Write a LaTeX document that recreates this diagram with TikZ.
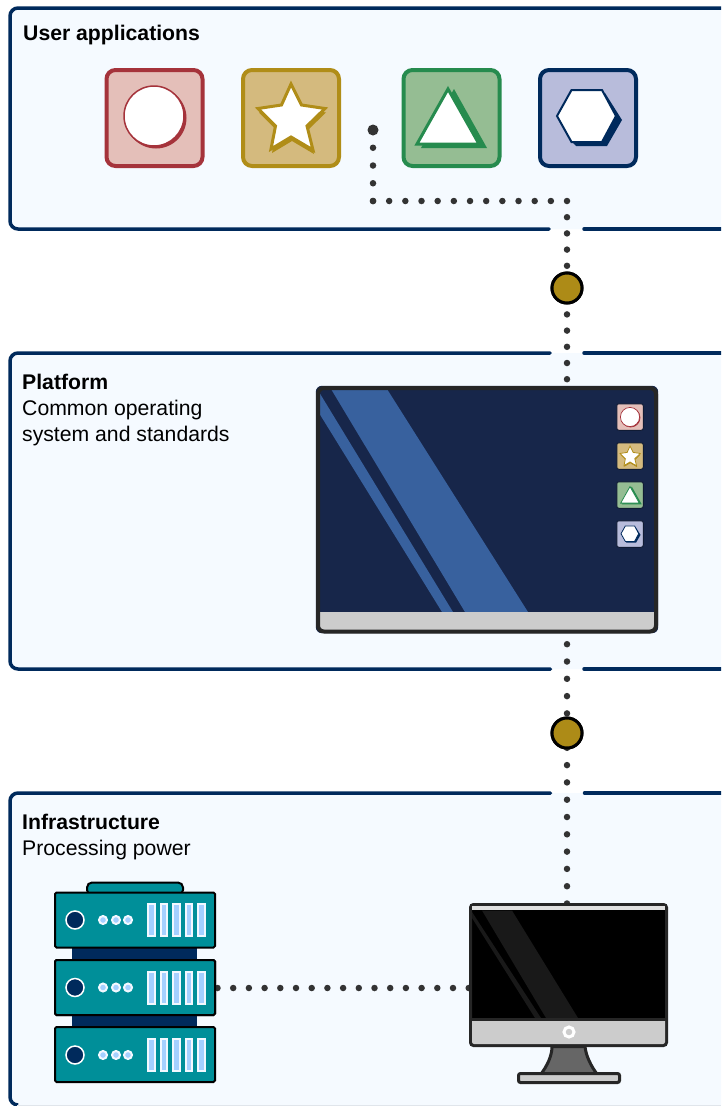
\documentclass[tikz,border=0pt]{standalone}
\usepackage{fontspec}
\setmainfont{Liberation Sans}
\definecolor{panelfill}{HTML}{F5FAFF}
\definecolor{navy}{HTML}{002A5C}
\definecolor{dotgrey}{HTML}{333333}
\definecolor{gold}{HTML}{AD8B17}
\definecolor{redS}{HTML}{A5333B}\definecolor{redF}{HTML}{E4BFB9}
\definecolor{goldS}{HTML}{B08D18}\definecolor{goldF}{HTML}{D4BA7E}
\definecolor{greenS}{HTML}{268B4E}\definecolor{greenF}{HTML}{95BD93}
\definecolor{blueF}{HTML}{B8BCDB}
\definecolor{screenblue}{HTML}{17264A}
\definecolor{stripeblue}{HTML}{38619E}
\definecolor{devline}{HTML}{262626}
\definecolor{chin}{HTML}{CCCCCC}
\definecolor{teal}{HTML}{008F99}
\definecolor{ledblue}{HTML}{A5D0FF}
\tikzset{
  x=1pt,y=-1pt,
  panelborder/.style={draw=navy,line width=3.5pt,rounded corners=8pt,line cap=round},
  paneltext/.style={anchor=base west,inner sep=0pt,font=\fontsize{21.2}{25}\selectfont},
  paneltitle/.style={paneltext,font=\fontsize{21.2}{25}\selectfont\bfseries},
  dots/.style={draw=dotgrey,line width=6.5pt,line cap=round,dash pattern=on 0pt off #1},
  junction/.style={circle,draw=black,fill=gold,line width=3pt,minimum size=30pt,inner sep=0pt},
  bigicon/.style={draw=#1,line width=4pt,rounded corners=9pt,minimum size=96pt,inner sep=0pt},
  smallicon/.style={draw=screenblue!70!black,line width=1pt,rounded corners=2pt,minimum size=26.5pt,inner sep=0pt},
  devbox/.style={draw=black,line width=2pt,fill=teal,rounded corners=1.5pt,inner sep=0pt},
  serverunit/.style={devbox,minimum width=160pt,minimum height=55pt},
  bar/.style={draw=white!85!ledblue,fill=ledblue,line width=2pt},
  led/.style={draw=white!85!ledblue,fill=ledblue,line width=2pt},
}
% inner glyphs, drawn relative to the icon centre; #1 = centre, #2 = scale, #3 = glyph line width
\newcommand{\glyphcircle}[3]{\begin{scope}[shift={(#1)},scale=#2]
  \fill[redS] (2,2) circle[radius=30.5];
  \draw[redS,fill=white,line width=#3] (0,0) circle[radius=30];
\end{scope}}
\newcommand{\starpts}{(0,-33) -- (10.5,-12) -- (34,-8.5) -- (16,9) -- (22,33) -- (0,20) -- (-20,32) -- (-15.5,9) -- (-33,-8.5) -- (-9.5,-12) -- cycle}
\newcommand{\glyphstar}[3]{\begin{scope}[shift={(#1)},scale=#2]
  \fill[goldS,shift={(1,4)}] \starpts;
  \draw[goldS,fill=white,line width=#3,miter limit=10] \starpts;
\end{scope}}
\newcommand{\tripts}{(0,-28) -- (31,27) -- (-31,27) -- cycle}
\newcommand{\glyphtri}[3]{\begin{scope}[shift={(#1)},scale=#2]
  \fill[greenS,shift={(6,2)}] (0,-30) -- (33,29) -- (-33,29) -- cycle;
  \draw[greenS,fill=white,line width=#3] \tripts;
\end{scope}}
\newcommand{\hexpts}{(-30,-1) -- (-15.5,-27) -- (15,-27) -- (29,-1) -- (15,25) -- (-15.5,25) -- cycle}
\newcommand{\glyphhex}[3]{\begin{scope}[shift={(#1)},scale=#2]
  \fill[navy] (18,-24) -- (35,3) -- (20,29) -- (-11,29) -- (-15,25) -- cycle;
  \draw[navy,fill=white,line width=#3] \hexpts;
\end{scope}}
\newcommand{\serverdetail}[1]{%
  \draw[white,fill=navy,line width=1.5pt] (75,#1+28) circle[radius=9];
  \foreach \lx in {103,116,128} \draw[led] (\lx,#1+28) circle[radius=4];
  \foreach \bx in {148,160.5,173,185.5,198} \draw[bar] (\bx,#1+12) rectangle (\bx+6.6,#1+44);
}
\begin{document}
\begin{tikzpicture}
\useasboundingbox (0,0) rectangle (721,1106);
\fill[white] (0,0) rectangle (721,1106);
\clip (0,0) rectangle (721,1106);

% panels
\fill[panelfill,rounded corners=8pt] (10,8) -- (730,8) -- (730,229) -- (10,229) -- cycle;
\draw[panelborder] (721,8) -- (10,8) -- (10,229) -- (549,229);
\draw[panelborder] (584,229) -- (721,229);
\fill[panelfill,rounded corners=8pt] (10,353) -- (730,353) -- (730,669) -- (10,669) -- cycle;
\draw[panelborder] (550,353) -- (10,353) -- (10,669) -- (550.5,669);
\draw[panelborder] (584,353) -- (721,353);
\draw[panelborder] (584,669) -- (721,669);
\fill[panelfill,rounded corners=8pt] (10,793) -- (730,793) -- (730,1105) -- (10,1105) -- cycle;
\draw[panelborder] (550.5,793) -- (10,793) -- (10,1105) -- (17,1105);
\draw[panelborder] (584.5,793) -- (721,793);
\draw[draw=navy!12,line width=1pt] (17,1105.5) -- (721,1105.5);

% text
\node[paneltitle] (t1) at (23,40) {User applications};
\node[paneltitle] (t2) at (22,389) {Platform};
\node[paneltext] (t3) at (22,415) {Common operating};
\node[paneltext] (t4) at (22,441) {system and standards};
\node[paneltitle] (t5) at (22,829) {Infrastructure};
\node[paneltext] (t6) at (22,855) {Processing power};

% named anchors
\node[circle,fill=dotgrey,minimum size=11pt,inner sep=0pt] (appdot) at (373,130) {};
\coordinate (c1) at (373,201);
\coordinate (c2) at (567,201);
\node[junction] (j1) at (567,288) {};
\node[junction] (j2) at (567,733) {};
\node[minimum width=342pt,minimum height=247pt,inner sep=0pt] (mainmon) at (487,509.5) {};
\node[minimum width=199pt,minimum height=144pt,inner sep=0pt] (pc) at (568.5,975) {};
\coordinate (pctop) at (567,905);
\node[serverunit] (s2) at (135,987.5) {};

% connectors
\draw[dots=17.75pt] (appdot.center) -- (c1);
\draw[dots=16.17pt] (c1) -- (c2);
\draw[dots=16.2pt] (c2) -- (j1.center);
\draw[dots=16.2pt,dash phase=6pt] (j1.center) -- (j1.center |- mainmon.north);
\draw[dots=17.3pt,dash phase=6.3pt] (j1.center |- mainmon.south) -- (j2.center);
\draw[dots=17.3pt,dash phase=2.5pt] (j2.center) -- (pctop);
\draw[dots=15.7pt,dash phase=14.2pt] (s2.east |- 0,988) -- (pc.west |- 0,988);
\node[junction] at (j1) {};
\node[junction] at (j2) {};

% application icons
\node[bigicon=redS,fill=redF] (a1) at (154.5,118) {};
\glyphcircle{154,116}{1}{1.5pt}
\node[bigicon=goldS,fill=goldF] (a2) at (291,118) {};
\glyphstar{291,117}{1}{3pt}
\node[bigicon=greenS,fill=greenF] (a3) at (451.5,118) {};
\glyphtri{448,117}{1}{3pt}
\node[bigicon=navy,fill=blueF] (a4) at (588,118) {};
\glyphhex{587,117}{1}{2pt}

% main monitor
\draw[fill=screenblue,draw=none,rounded corners=6pt] (mainmon.north west) rectangle (mainmon.south east);
\fill[stripeblue] (331,389) -- (387,389) -- (528,612) -- (465,612) -- cycle;
\fill[stripeblue] (319,392) -- (319,413) -- (442,612) -- (453,612) -- cycle;
\fill[chin,rounded corners=4pt] (318,612) -- (656,612) -- (656,631) -- (318,631) -- cycle;
\fill[chin] (318,612) rectangle (656,620);
\draw[devline,line width=4pt,rounded corners=6pt] (318,388) rectangle (656,631.5);
\node[smallicon,fill=redF] (m1) at (630,417) {};
\glyphcircle{630,417}{.32}{.7pt}
\node[smallicon,fill=goldF] (m2) at (630,456) {};
\glyphstar{630,456}{.3}{.8pt}
\node[smallicon,fill=greenF] (m3) at (630,495) {};
\glyphtri{630,495}{.3}{.8pt}
\node[smallicon,fill=blueF] (m4) at (630,534) {};
\glyphhex{630,534}{.3}{.8pt}

% server rack
\fill[navy] (72,946) rectangle (197,1029);
\draw[devbox,rounded corners=5pt] (87,895) -- (87,882.5) -- (183,882.5) -- (183,895) -- cycle;
\node[serverunit] (s1) at (135,920) {};
\node[serverunit] at (s2) {};
\node[serverunit] (s3) at (135,1054.5) {};
\serverdetail{892}
\serverdetail{959.5}
\serverdetail{1027}

% desktop computer
\path[draw=devline,fill=black,line width=3pt,rounded corners=3pt] (470.5,904.5) rectangle (666.5,1045.5);
\fill[black!90] (482,910.5) -- (512,910.5) -- (578,1018) -- (546,1018) -- cycle;
\fill[black!90] (472,912) -- (472,918) -- (535,1018) -- (541,1018) -- cycle;
\fill[black!12] (472,905.5) rectangle (665,910);
\fill[chin,rounded corners=2pt] (472,1019) -- (665,1019) -- (665,1044) -- (472,1044) -- cycle;
\fill[chin] (472,1019) rectangle (665,1030);
\draw[devline,line width=3pt] (471,1019) -- (666,1019);
\draw[white,fill=chin,line width=3pt] (569,1032) circle[radius=5];
\draw[devline,fill=black!60,line width=3pt,line join=round] (552,1046.5) .. controls (552,1056) and (547,1066) .. (541,1074) -- (597,1074) .. controls (591,1066) and (586,1056) .. (585,1046.5) -- cycle;
\draw[devline,fill=chin,line width=3pt,rounded corners=2pt] (518.5,1073.5) rectangle (619.5,1082.5);
\end{tikzpicture}
\end{document}
